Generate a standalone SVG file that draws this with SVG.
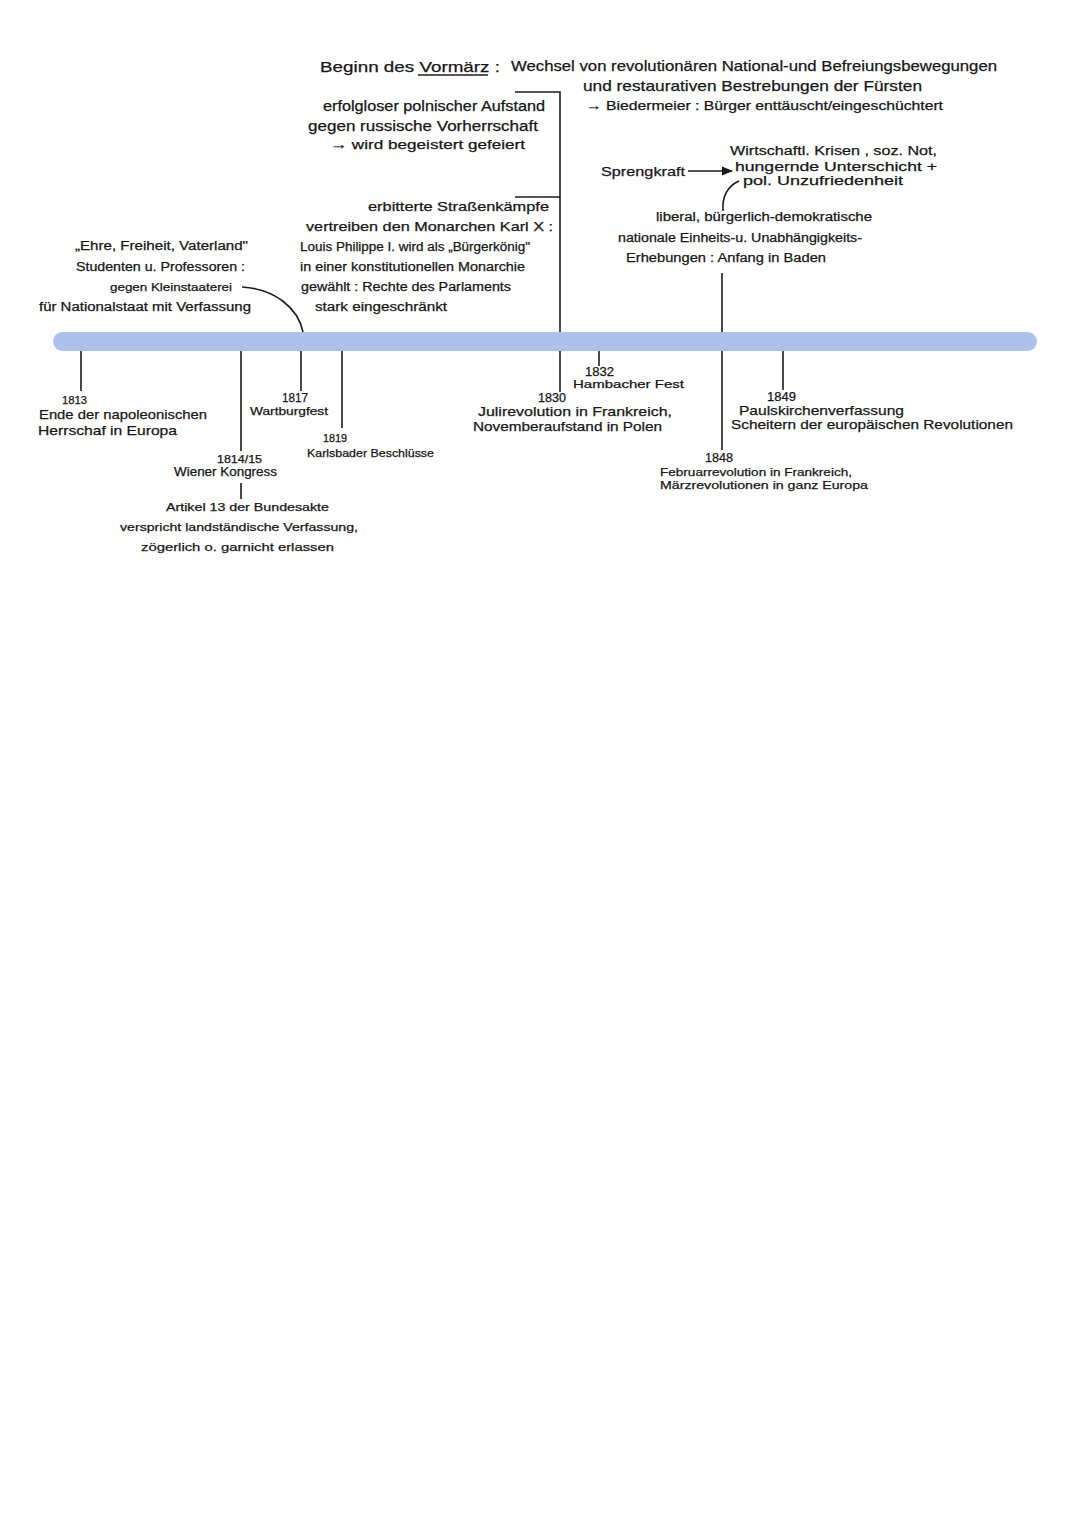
<svg xmlns="http://www.w3.org/2000/svg" width="1080" height="1527" viewBox="0 0 1080 1527">
<style>
text{font-family:"Liberation Sans","DejaVu Sans",sans-serif;fill:#161616;stroke:#161616;stroke-width:0.25;}
.ln{stroke:#1c1c1c;stroke-width:1.6;fill:none;}
</style>
<defs>
<marker id="ah" viewBox="0 0 10 10" refX="9" refY="5" markerWidth="7" markerHeight="7" orient="auto"><path d="M0,1 L10,5 L0,9 Z" fill="#1c1c1c"/></marker>
</defs>
<rect width="1080" height="1527" fill="#ffffff"/>
<g id="timeline"><rect x="53" y="332" width="984" height="19" rx="9.5" fill="#aec0ec"/></g>
<g id="connectors">
<line class="ln" x1="81" y1="351" x2="81" y2="391"/>
<line class="ln" x1="241" y1="351" x2="241" y2="451"/>
<line class="ln" x1="241" y1="483" x2="241" y2="499"/>
<line class="ln" x1="301" y1="351" x2="301" y2="391"/>
<line class="ln" x1="342" y1="351" x2="342" y2="428"/>
<line class="ln" x1="560" y1="351" x2="560" y2="392"/>
<line class="ln" x1="599" y1="351" x2="599" y2="366"/>
<line class="ln" x1="722" y1="351" x2="722" y2="450"/>
<line class="ln" x1="722" y1="273" x2="722" y2="332"/>
<line class="ln" x1="783" y1="351" x2="783" y2="390"/>
<polyline class="ln" points="515,92 560,92 560,332"/>
<line class="ln" x1="515" y1="197" x2="560" y2="197"/>
<path class="ln" d="M242 287 C275 289 298 308 303 332"/>
<line class="ln" x1="688" y1="171" x2="732" y2="171" marker-end="url(#ah)"/>
<path class="ln" d="M739 181 C728 186 722 196 723 211"/>
</g>
<g id="title">
<text x="320" y="72" font-size="15" textLength="180" lengthAdjust="spacingAndGlyphs">Beginn des Vormärz :</text>
<line class="ln" x1="418" y1="75" x2="488" y2="75"/>
<text x="511" y="71" font-size="15" textLength="486" lengthAdjust="spacingAndGlyphs">Wechsel von revolutionären National-und Befreiungsbewegungen</text>
<text x="583" y="91" font-size="15" textLength="339" lengthAdjust="spacingAndGlyphs">und restaurativen Bestrebungen der Fürsten</text>
<text x="586" y="110" font-size="12.5" textLength="357" lengthAdjust="spacingAndGlyphs">→ Biedermeier : Bürger enttäuscht/eingeschüchtert</text>
</g>
<g id="polen">
<text x="323" y="111" font-size="14" textLength="222" lengthAdjust="spacingAndGlyphs">erfolgloser polnischer Aufstand</text>
<text x="308" y="131" font-size="14" textLength="230" lengthAdjust="spacingAndGlyphs">gegen russische Vorherrschaft</text>
<text x="330" y="149" font-size="13" textLength="195" lengthAdjust="spacingAndGlyphs">→ wird begeistert gefeiert</text>
</g>
<g id="julirevolution-detail">
<text x="368" y="211" font-size="13.5" textLength="181" lengthAdjust="spacingAndGlyphs">erbitterte Straßenkämpfe</text>
<text x="306" y="231" font-size="13.5" textLength="247" lengthAdjust="spacingAndGlyphs">vertreiben den Monarchen Karl X :</text>
<text x="300" y="251" font-size="12" textLength="230" lengthAdjust="spacingAndGlyphs">Louis Philippe I. wird als „Bürgerkönig"</text>
<text x="300" y="271" font-size="12.5" textLength="225" lengthAdjust="spacingAndGlyphs">in einer konstitutionellen Monarchie</text>
<text x="301" y="291" font-size="12" textLength="210" lengthAdjust="spacingAndGlyphs">gewählt : Rechte des Parlaments</text>
<text x="315" y="311" font-size="12" textLength="132" lengthAdjust="spacingAndGlyphs">stark eingeschränkt</text>
</g>
<g id="sprengkraft">
<text x="601" y="176" font-size="13.5" textLength="84" lengthAdjust="spacingAndGlyphs">Sprengkraft</text>
<text x="730" y="155" font-size="13.5" textLength="207" lengthAdjust="spacingAndGlyphs">Wirtschaftl. Krisen , soz. Not,</text>
<text x="735" y="171" font-size="13.5" textLength="202" lengthAdjust="spacingAndGlyphs">hungernde Unterschicht +</text>
<text x="743" y="185" font-size="13.5" textLength="160" lengthAdjust="spacingAndGlyphs">pol. Unzufriedenheit</text>
</g>
<g id="erhebungen">
<text x="656" y="221" font-size="12" textLength="216" lengthAdjust="spacingAndGlyphs">liberal, bürgerlich-demokratische</text>
<text x="618" y="242" font-size="12" textLength="244" lengthAdjust="spacingAndGlyphs">nationale Einheits-u. Unabhängigkeits-</text>
<text x="626" y="262" font-size="12.5" textLength="200" lengthAdjust="spacingAndGlyphs">Erhebungen : Anfang in Baden</text>
</g>
<g id="wartburg-detail">
<text x="75" y="250" font-size="12.5" textLength="173" lengthAdjust="spacingAndGlyphs">„Ehre, Freiheit, Vaterland"</text>
<text x="76" y="271" font-size="12.5" textLength="169" lengthAdjust="spacingAndGlyphs">Studenten u. Professoren :</text>
<text x="110" y="291" font-size="11" textLength="122" lengthAdjust="spacingAndGlyphs">gegen Kleinstaaterei</text>
<text x="39" y="311" font-size="12" textLength="212" lengthAdjust="spacingAndGlyphs">für Nationalstaat mit Verfassung</text>
</g>
<g id="e1813">
<text x="62" y="404" font-size="11" textLength="25" lengthAdjust="spacingAndGlyphs">1813</text>
<text x="39" y="419" font-size="13.5" textLength="168" lengthAdjust="spacingAndGlyphs">Ende der napoleonischen</text>
<text x="38" y="435" font-size="13.5" textLength="139" lengthAdjust="spacingAndGlyphs">Herrschaf in Europa</text>
</g>
<g id="e1817">
<text x="282" y="402" font-size="12" textLength="26" lengthAdjust="spacingAndGlyphs">1817</text>
<text x="250" y="415" font-size="11" textLength="78" lengthAdjust="spacingAndGlyphs">Wartburgfest</text>
</g>
<g id="e1819">
<text x="323" y="442" font-size="10" textLength="24" lengthAdjust="spacingAndGlyphs">1819</text>
<text x="307" y="457" font-size="11" textLength="127" lengthAdjust="spacingAndGlyphs">Karlsbader Beschlüsse</text>
</g>
<g id="e1814">
<text x="217" y="463" font-size="10" textLength="45" lengthAdjust="spacingAndGlyphs">1814/15</text>
<text x="174" y="476" font-size="12" textLength="103" lengthAdjust="spacingAndGlyphs">Wiener Kongress</text>
</g>
<g id="artikel13">
<text x="166" y="511" font-size="11" textLength="163" lengthAdjust="spacingAndGlyphs">Artikel 13 der Bundesakte</text>
<text x="120" y="531" font-size="11.5" textLength="238" lengthAdjust="spacingAndGlyphs">verspricht landständische Verfassung,</text>
<text x="141" y="551" font-size="11.5" textLength="193" lengthAdjust="spacingAndGlyphs">zögerlich o. garnicht erlassen</text>
</g>
<g id="e1832">
<text x="585" y="376" font-size="12" textLength="29" lengthAdjust="spacingAndGlyphs">1832</text>
<text x="573" y="388" font-size="11" textLength="111" lengthAdjust="spacingAndGlyphs">Hambacher Fest</text>
</g>
<g id="e1830">
<text x="538" y="402" font-size="12" textLength="28" lengthAdjust="spacingAndGlyphs">1830</text>
<text x="478" y="416" font-size="13.5" textLength="194" lengthAdjust="spacingAndGlyphs">Julirevolution in Frankreich,</text>
<text x="473" y="431" font-size="13.5" textLength="189" lengthAdjust="spacingAndGlyphs">Novemberaufstand in Polen</text>
</g>
<g id="e1849">
<text x="767" y="401" font-size="12" textLength="29" lengthAdjust="spacingAndGlyphs">1849</text>
<text x="739" y="415" font-size="13.5" textLength="165" lengthAdjust="spacingAndGlyphs">Paulskirchenverfassung</text>
<text x="731" y="429" font-size="13.5" textLength="282" lengthAdjust="spacingAndGlyphs">Scheitern der europäischen Revolutionen</text>
</g>
<g id="e1848">
<text x="705" y="462" font-size="12" textLength="28" lengthAdjust="spacingAndGlyphs">1848</text>
<text x="660" y="476" font-size="11.5" textLength="192" lengthAdjust="spacingAndGlyphs">Februarrevolution in Frankreich,</text>
<text x="660" y="489" font-size="11.5" textLength="208" lengthAdjust="spacingAndGlyphs">Märzrevolutionen in ganz Europa</text>
</g>
</svg>
